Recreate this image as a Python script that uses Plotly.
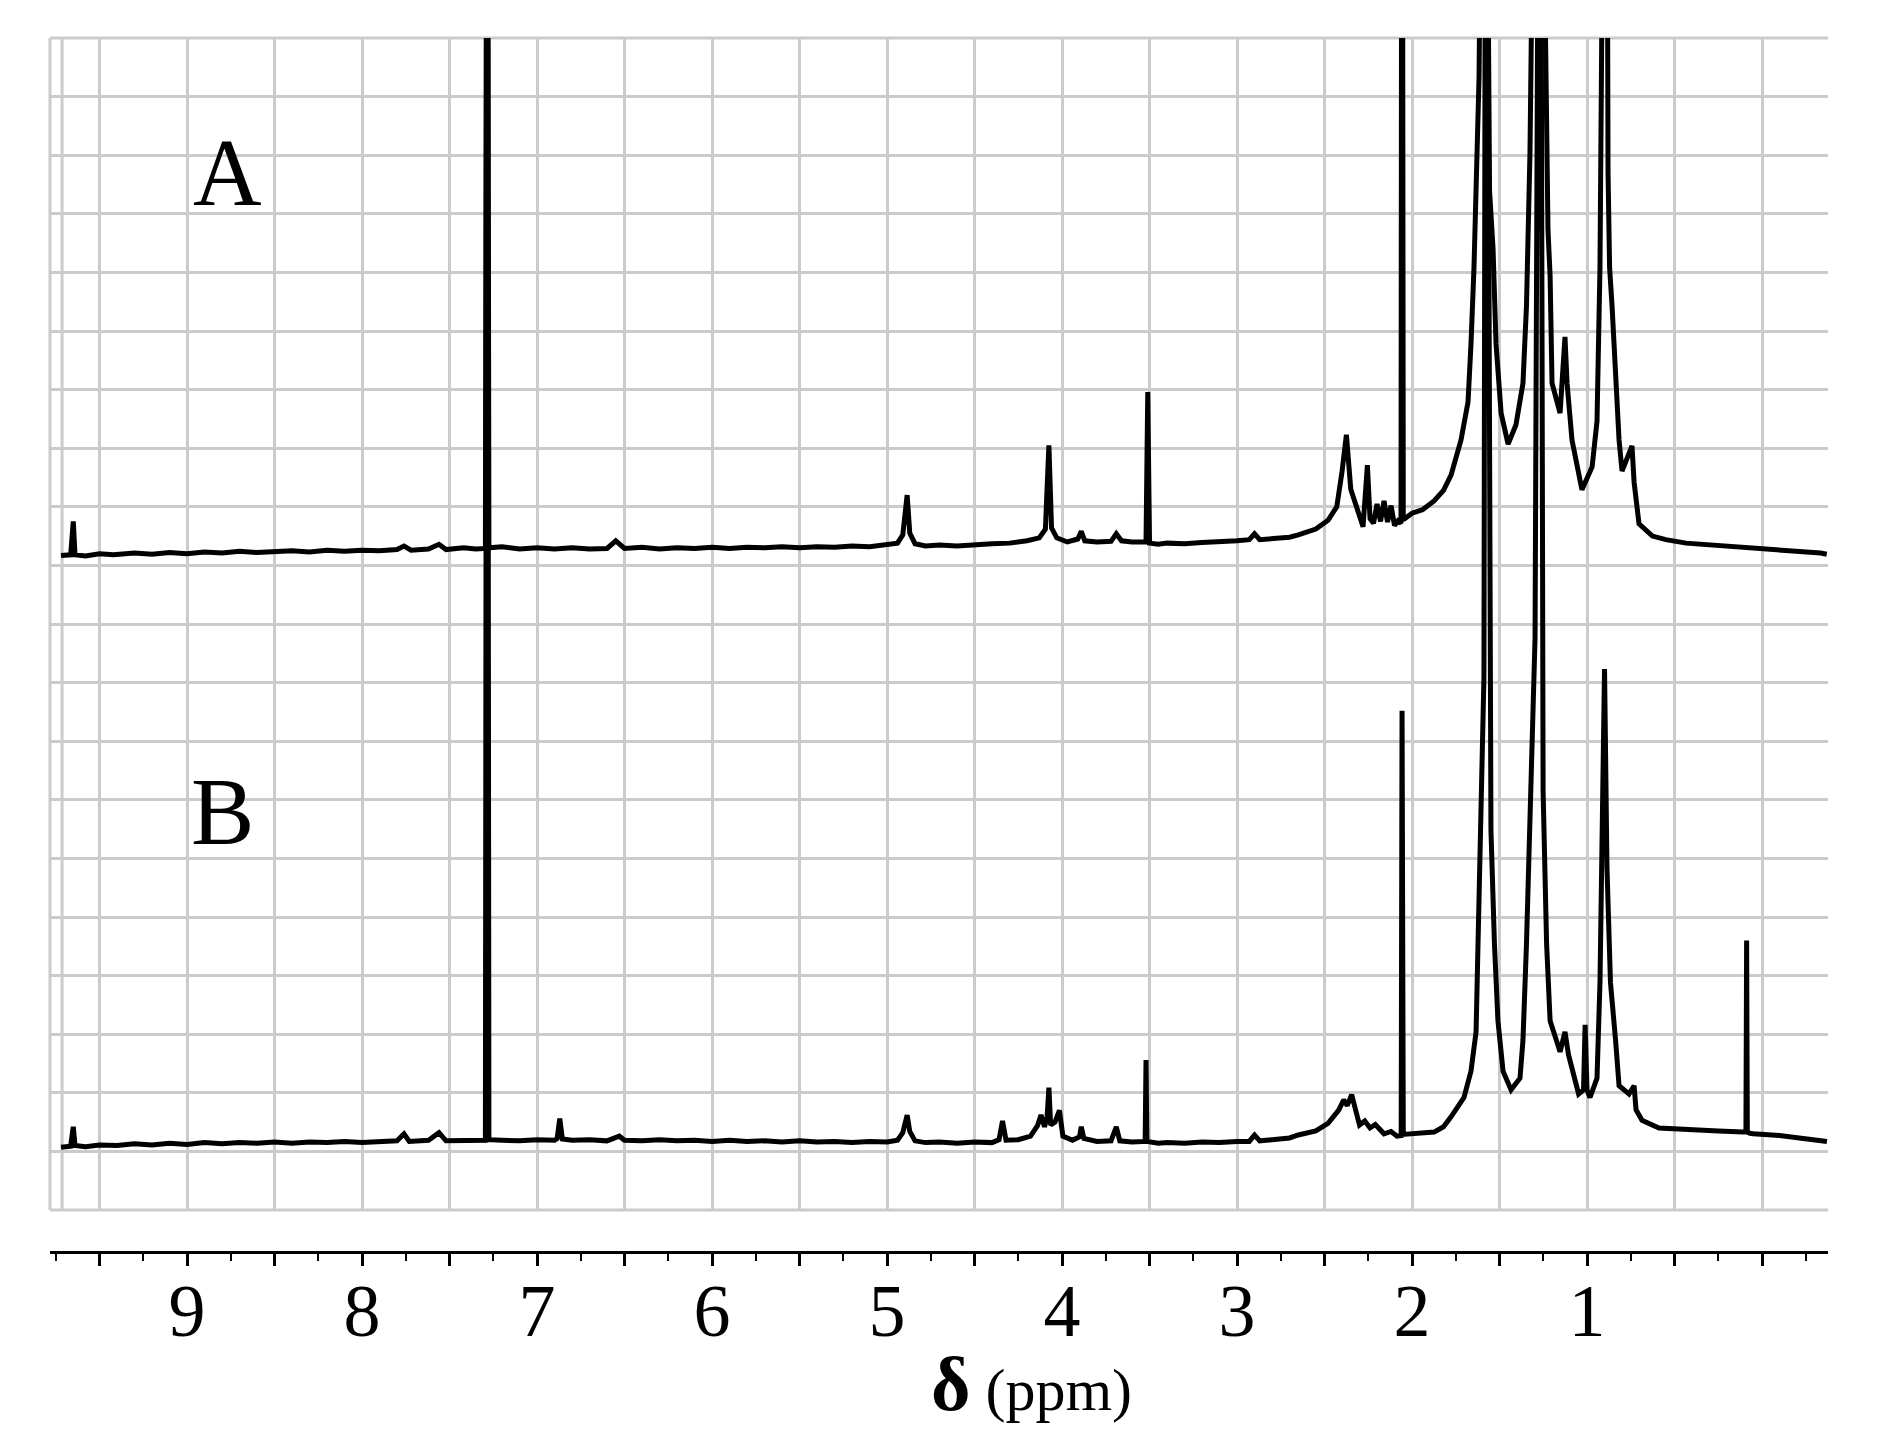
import plotly.graph_objects as go

# 1H NMR spectra, chemical shift (ppm) vs intensity (grid units, 20 divisions)
spectrum_a = [
    (9.72, 11.17), (9.665, 11.18), (9.65, 11.75), (9.64, 11.18), (9.58, 11.16), (9.5, 11.20),
    (9.42, 11.18), (9.3, 11.21), (9.2, 11.19), (9.1, 11.22), (9.0, 11.20), (8.9, 11.23),
    (8.8, 11.21), (8.7, 11.24), (8.6, 11.22), (8.5, 11.23), (8.4, 11.25), (8.3, 11.23),
    (8.2, 11.26), (8.1, 11.24), (8.0, 11.26), (7.9, 11.25), (7.8, 11.27), (7.76, 11.33),
    (7.72, 11.26), (7.62, 11.28), (7.56, 11.36), (7.52, 11.27), (7.42, 11.30), (7.35, 11.28),
    (7.295, 11.29), (7.285, 30), (7.275, 11.30), (7.2, 11.32), (7.1, 11.28), (7.0, 11.30),
    (6.9, 11.28), (6.8, 11.30), (6.7, 11.28), (6.6, 11.29), (6.55, 11.42), (6.5, 11.29),
    (6.4, 11.31), (6.3, 11.28), (6.2, 11.30), (6.1, 11.29), (6.0, 11.31), (5.9, 11.29),
    (5.8, 11.31), (5.7, 11.30), (5.6, 11.32), (5.5, 11.30), (5.4, 11.32), (5.3, 11.31),
    (5.2, 11.33), (5.1, 11.32), (5.0, 11.35), (4.94, 11.38), (4.91, 11.52), (4.885, 12.20),
    (4.87, 11.55), (4.84, 11.37), (4.78, 11.33), (4.7, 11.35), (4.6, 11.33), (4.5, 11.36),
    (4.4, 11.37), (4.3, 11.38), (4.2, 11.42), (4.13, 11.47), (4.095, 11.62), (4.075, 13.05),
    (4.06, 11.64), (4.03, 11.47), (3.97, 11.40), (3.91, 11.45), (3.89, 11.58), (3.87, 11.42),
    (3.8, 11.40), (3.72, 11.41), (3.69, 11.54), (3.66, 11.42), (3.6, 11.40), (3.52, 11.40),
    (3.51, 13.96), (3.50, 11.38), (3.45, 11.36), (3.4, 11.38), (3.3, 11.37), (3.2, 11.39),
    (3.1, 11.40), (3.0, 11.42), (2.93, 11.44), (2.90, 11.54), (2.87, 11.44), (2.8, 11.45),
    (2.7, 11.48), (2.65, 11.52), (2.55, 11.62), (2.48, 11.77), (2.43, 12.00), (2.40, 12.60),
    (2.375, 13.23), (2.35, 12.30), (2.32, 12.00), (2.28, 11.66), (2.255, 12.71), (2.24, 11.80),
    (2.22, 11.72), (2.20, 12.05), (2.18, 11.75), (2.16, 12.10), (2.14, 11.74), (2.12, 12.02),
    (2.10, 11.68), (2.08, 11.76), (2.063, 11.72), (2.057, 30), (2.05, 11.78), (2.0, 11.89),
    (1.94, 11.95), (1.874, 12.10), (1.82, 12.28), (1.777, 12.54), (1.72, 13.14), (1.68, 13.79),
    (1.663, 14.78), (1.646, 16.08), (1.617, 19.33), (1.586, 30), (1.557, 17.39), (1.537, 16.40),
    (1.52, 14.78), (1.491, 13.60), (1.451, 13.07), (1.406, 13.40), (1.366, 14.11), (1.346, 15.43),
    (1.326, 18.04), (1.28, 30), (1.223, 16.72), (1.211, 15.94), (1.20, 14.11), (1.154, 13.60),
    (1.126, 14.90), (1.114, 14.11), (1.086, 13.14), (1.029, 12.29), (0.971, 12.68), (0.943, 13.46),
    (0.926, 16.08), (0.911, 19.33), (0.891, 30), (0.88, 17.71), (0.871, 16.08), (0.857, 15.43),
    (0.837, 14.11), (0.817, 13.14), (0.80, 12.61), (0.743, 13.04), (0.731, 12.42), (0.703, 11.71),
    (0.626, 11.50), (0.55, 11.44), (0.434, 11.38), (0.3, 11.35), (0.15, 11.33), (0.051, 11.31),
    (-0.1, 11.28), (-0.2, 11.25), (-0.335, 11.21), (-0.37, 11.19),
]

spectrum_b = [
    (9.72, 1.07), (9.665, 1.09), (9.65, 1.42), (9.64, 1.10), (9.58, 1.08), (9.5, 1.11),
    (9.4, 1.10), (9.3, 1.13), (9.2, 1.11), (9.1, 1.14), (9.0, 1.12), (8.9, 1.15),
    (8.8, 1.13), (8.7, 1.15), (8.6, 1.14), (8.5, 1.16), (8.4, 1.14), (8.3, 1.16),
    (8.2, 1.15), (8.1, 1.17), (8.0, 1.15), (7.9, 1.17), (7.8, 1.18), (7.76, 1.30),
    (7.73, 1.17), (7.62, 1.19), (7.56, 1.32), (7.52, 1.18), (7.42, 1.19), (7.35, 1.18),
    (7.295, 1.19), (7.285, 30), (7.275, 1.20), (7.2, 1.19), (7.1, 1.18), (7.0, 1.20),
    (6.9, 1.19), (6.885, 1.22), (6.87, 1.56), (6.855, 1.21), (6.8, 1.19), (6.7, 1.20),
    (6.6, 1.18), (6.53, 1.26), (6.5, 1.19), (6.4, 1.18), (6.3, 1.20), (6.2, 1.18),
    (6.1, 1.19), (6.0, 1.17), (5.9, 1.19), (5.8, 1.17), (5.7, 1.18), (5.6, 1.16),
    (5.5, 1.18), (5.4, 1.16), (5.3, 1.17), (5.2, 1.15), (5.1, 1.17), (5.0, 1.16),
    (4.94, 1.19), (4.91, 1.32), (4.885, 1.62), (4.87, 1.34), (4.84, 1.18), (4.78, 1.15),
    (4.7, 1.16), (4.6, 1.14), (4.5, 1.16), (4.4, 1.15), (4.36, 1.20), (4.34, 1.52),
    (4.32, 1.19), (4.25, 1.20), (4.18, 1.26), (4.14, 1.44), (4.12, 1.62), (4.10, 1.42),
    (4.085, 1.60), (4.075, 2.09), (4.065, 1.45), (4.04, 1.50), (4.015, 1.70), (3.995, 1.26),
    (3.94, 1.19), (3.90, 1.25), (3.89, 1.42), (3.875, 1.22), (3.8, 1.17), (3.72, 1.18),
    (3.69, 1.42), (3.67, 1.18), (3.6, 1.16), (3.525, 1.17), (3.52, 2.56), (3.515, 1.17),
    (3.45, 1.14), (3.4, 1.15), (3.3, 1.14), (3.2, 1.16), (3.1, 1.15), (3.0, 1.17),
    (2.93, 1.17), (2.90, 1.28), (2.87, 1.18), (2.8, 1.20), (2.7, 1.23), (2.65, 1.28),
    (2.55, 1.35), (2.48, 1.48), (2.42, 1.70), (2.39, 1.88), (2.37, 1.78), (2.345, 1.97),
    (2.32, 1.72), (2.30, 1.45), (2.27, 1.52), (2.24, 1.40), (2.21, 1.46), (2.16, 1.30),
    (2.12, 1.34), (2.086, 1.26), (2.062, 1.27), (2.057, 8.52), (2.05, 1.29), (2.017, 1.30),
    (1.95, 1.31), (1.874, 1.33), (1.82, 1.42), (1.777, 1.59), (1.703, 1.92), (1.663, 2.37),
    (1.634, 3.04), (1.623, 4.54), (1.606, 6.48), (1.589, 9.10), (1.577, 30), (1.549, 6.48),
    (1.529, 4.54), (1.509, 3.23), (1.48, 2.37), (1.434, 2.05), (1.383, 2.25), (1.366, 2.90),
    (1.346, 4.54), (1.326, 6.48), (1.297, 9.76), (1.269, 30), (1.251, 7.15), (1.231, 4.54),
    (1.211, 3.23), (1.183, 2.97), (1.154, 2.70), (1.126, 3.04), (1.106, 2.65), (1.048, 1.98),
    (1.02, 2.05), (1.011, 3.16), (1.0, 2.05), (0.983, 1.92), (0.943, 2.25), (0.926, 3.88),
    (0.914, 5.84), (0.90, 9.23), (0.886, 5.84), (0.874, 4.54), (0.866, 3.88), (0.837, 2.90),
    (0.817, 2.12), (0.76, 1.98), (0.731, 2.12), (0.72, 1.71), (0.686, 1.53), (0.589, 1.40),
    (0.434, 1.37), (0.25, 1.35), (0.109, 1.33), (0.092, 1.34), (0.088, 4.60), (0.084, 1.33),
    (0.069, 1.31), (0.051, 1.30), (-0.1, 1.27), (-0.25, 1.21), (-0.371, 1.17),
]

tick_vals = [9.5, 9, 8.5, 8, 7.5, 7, 6.5, 6, 5.5, 5, 4.5, 4, 3.5, 3, 2.5, 2, 1.5, 1, 0.5, 0]
tick_text = ['', '9', '', '8', '', '7', '', '6', '', '5', '', '4', '', '3', '', '2', '', '1', '', '']

GRID = '#cbcbcb'
SERIF = 'Liberation Serif, Times New Roman, serif'

ppm_a, int_a = zip(*spectrum_a)
ppm_b, int_b = zip(*spectrum_b)

fig = go.Figure()
for xs, ys in [(ppm_a, int_a), (ppm_b, int_b)]:
    fig.add_trace(go.Scatter(x=xs, y=ys, mode='lines',
                             line=dict(color='black', width=5),
                             hoverinfo='skip', showlegend=False))

# frame of the grid box
frame = [
    dict(x0=0, x1=0, y0=0, y1=1, xref='x domain', yref='y domain'),
    dict(x0=0, x1=1, y0=1, y1=1, xref='x domain', yref='y domain'),
    dict(x0=0, x1=1, y0=0, y1=0, xref='x domain', yref='y domain'),
    dict(x0=9.714, x1=9.714, y0=0, y1=1, xref='x', yref='y domain'),
]
for s in frame:
    fig.add_shape(type='line', layer='below', line=dict(color=GRID, width=3), **s)

fig.add_annotation(x=8.77, y=17.7, xref='x', yref='y', text='A', showarrow=False,
                   font=dict(family=SERIF, size=95, color='black'))
fig.add_annotation(x=8.80, y=6.8, xref='x', yref='y', text='B', showarrow=False,
                   font=dict(family=SERIF, size=95, color='black'))
fig.add_annotation(x=0.5523, y=-0.145, xref='paper', yref='paper',
                   text="<b style='font-size:76px'>δ</b> (ppm)", showarrow=False,
                   font=dict(family=SERIF, size=60, color='black'))

fig.update_layout(
    width=1869, height=1441,
    margin=dict(l=42, r=49, t=30, b=197, autoexpand=False),
    plot_bgcolor='white', paper_bgcolor='white',
    xaxis=dict(
        range=[9.783, -0.377],
        anchor='free', position=0,
        showgrid=True, gridcolor=GRID, gridwidth=3,
        zeroline=False,
        showline=True, linecolor='black', linewidth=3,
        tickmode='array', tickvals=tick_vals, ticktext=tick_text,
        ticks='outside', ticklen=12, tickwidth=3, tickcolor='black',
        ticklabelstandoff=-19,
        tickfont=dict(family=SERIF, size=74, color='black'),
        minor=dict(tickmode='linear', tick0=0, dtick=0.25, ticks='outside',
                   ticklen=7, tickwidth=2, tickcolor='black', showgrid=False),
    ),
    yaxis=dict(
        range=[0, 20], domain=[42 / 1214, 1],
        tickmode='linear', tick0=0, dtick=1,
        showgrid=True, gridcolor=GRID, gridwidth=3,
        zeroline=False, showline=False, showticklabels=False, ticks='',
    ),
)

fig.write_html("out.html")
